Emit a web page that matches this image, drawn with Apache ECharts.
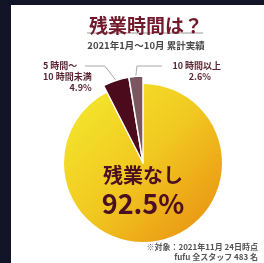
<!DOCTYPE html>
<html>
<head>
<meta charset="utf-8">
<script src="https://cdn.jsdelivr.net/npm/echarts@6/dist/echarts.min.js"></script>
<style>
  html, body { margin: 0; padding: 0; background: #111527; }
  #chart { position: absolute; left: 11px; top: 5px; width: 253px; height: 258px; background: #fff; }
</style>
</head>
<body>
<div id="chart"></div>
<script>
const categories = ["残業なし", "5 時間～\n10 時間未満", "10 時間以上"];
const values = [92.5, 4.9, 2.6];
const sliceColors = ["#f0c51e", "#4b0b1d", "#7b5661"];

const titleText = "残業時間は？";
const subText = "2021年1月～10月 累計実績";
const noteLines = ["※対象：2021年11月 24日時点", "fufu 全スタッフ 483 名"];

const font = "'Noto Sans CJK JP', sans-serif";
const chart = echarts.init(document.getElementById("chart"));

const yellowFill = new echarts.graphic.LinearGradient(0, 0, 1, 1, [
  { offset: 0, color: "#f4ec30" },
  { offset: 0.5, color: "#f1c820" },
  { offset: 1, color: "#e98a10" },
]);

// series 0: big slice only, series 1: the two small slices drawn larger
const baseData = values.map((v, i) => ({
  name: categories[i],
  value: v,
  itemStyle: i === 0 ? { color: yellowFill } : { color: "transparent", borderWidth: 0 },
  label: i === 0
    ? {
        show: true,
        position: "center",
        offset: [0, 27],
        formatter: "{a|{b}}\n{b|{c}%}",
        rich: {
          a: { fontSize: 20, fontWeight: "bold", color: "#4a0f20", fontFamily: font, lineHeight: 27 },
          b: { fontSize: 27, fontWeight: "bold", color: "#4a0f20", fontFamily: font, lineHeight: 30 },
        },
      }
    : { show: false },
  labelLine: { show: false },
}));

const smallData = values.map((v, i) => ({
  name: categories[i],
  value: v,
  itemStyle: i === 0
    ? { color: "transparent", borderWidth: 0 }
    : { color: sliceColors[i], borderColor: "#fff", borderWidth: 1.5 },
  label: { show: i !== 0 },
  labelLine: { show: i !== 0 },
}));

// label box placement and leader-line elbow/end for the two small slices
const labelPos = [
  null,
  { x: 32, y: 55, align: "left", dx: -11, lineY: 61, endX: 74 },
  { x: 200, y: 55, align: "right", dx: 1, lineY: 61, endX: 151 },
];

const labelText = { fontSize: 9, lineHeight: 11, fontWeight: "bold", color: "#5a2633", fontFamily: font };

chart.setOption({
  animation: false,
  title: [
    {
      text: titleText,
      left: 130,
      top: 6,
      textAlign: "center",
      textStyle: { fontSize: 19, fontWeight: "bold", color: "#701a2c", fontFamily: font },
    },
    {
      text: subText,
      left: 130,
      top: 31,
      textAlign: "center",
      textStyle: { fontSize: 9.5, fontWeight: "bold", color: "#4a4a4a", fontFamily: font },
    },
  ],
  graphic: [
    {
      type: "line",
      shape: { x1: 76, y1: 28, x2: 192, y2: 28 },
      style: { stroke: "#9a9a9a", lineWidth: 1 },
    },
    ...noteLines.map((t, i) => ({
      type: "text",
      right: 6,
      top: 238 + i * 10,
      style: { text: t, fontSize: 8, fontWeight: "bold", fill: "#555", fontFamily: font },
    })),
  ],
  series: [
    {
      type: "pie",
      center: [132, 158],
      radius: 79,
      startAngle: 90,
      silent: true,
      data: baseData,
    },
    {
      type: "pie",
      center: [132, 158],
      radius: 87,
      startAngle: 90,
      silent: true,
      label: {
        position: "outside",
        formatter: (p) =>
          p.name.split("\n").map((s) => "{l|" + s + "}").join("\n") + "\n{r|" + p.value + "%}",
        rich: {
          l: { ...labelText, align: "left" },
          r: { ...labelText, align: "right" },
        },
        align: "right",
        overflow: "none",
      },
      labelLine: { lineStyle: { color: "#aaa", width: 1 }, length: 10, length2: 10 },
      labelLayout: (params) => {
        const p = labelPos[params.dataIndex];
        if (!p) return {};
        const p0 = params.labelLinePoints ? params.labelLinePoints[0] : null;
        const out = { x: p.x, y: p.y, align: p.align, verticalAlign: "top" };
        if (p0) out.labelLinePoints = [p0, [p0[0] + p.dx, p.lineY], [p.endX, p.lineY]];
        return out;
      },
      data: smallData,
    },
  ],
});
</script>
</body>
</html>
